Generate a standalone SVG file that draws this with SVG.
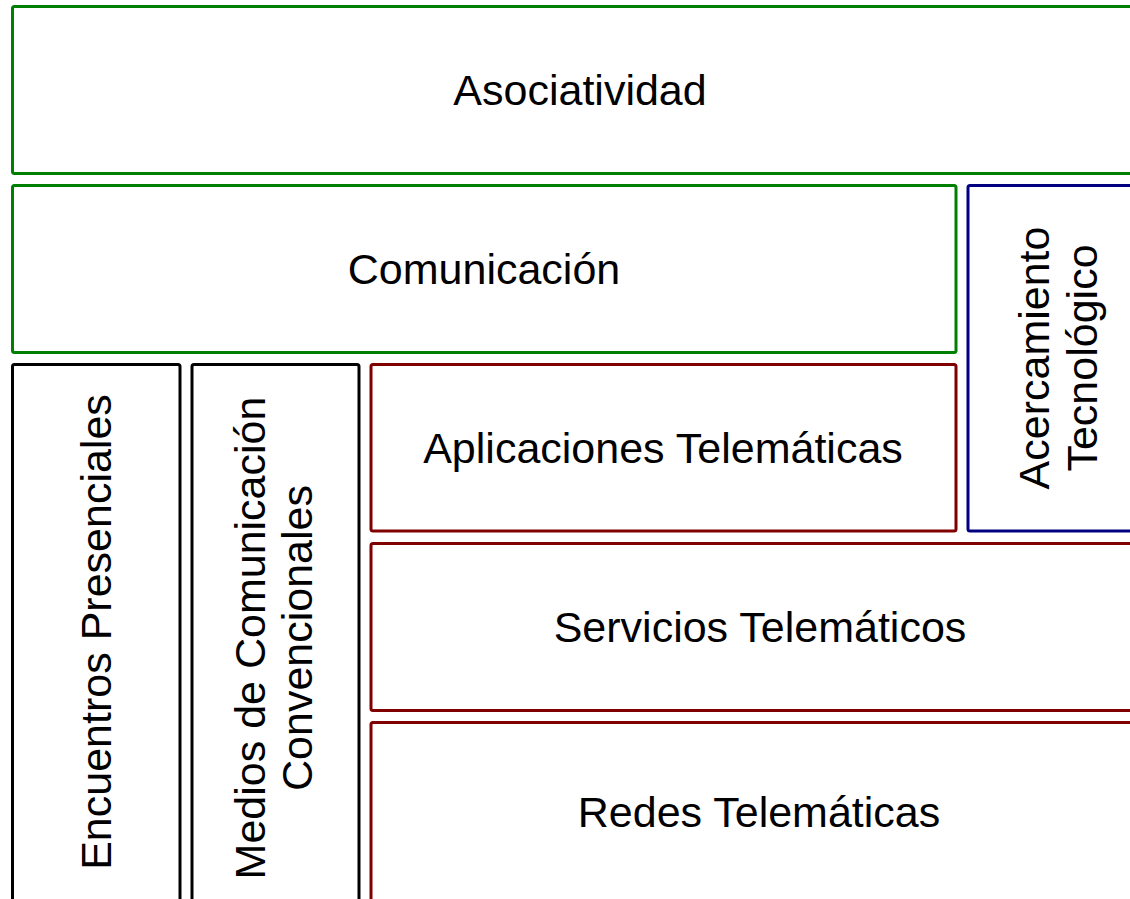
<svg xmlns="http://www.w3.org/2000/svg" width="1130" height="899" viewBox="0 0 1130 899">
<style>
rect{fill:#fff;stroke-width:3;}
.g{stroke:#008000;}
.b{stroke:#000080;}
.r{stroke:#800000;}
.k{stroke:#000;}
text{font-family:"Liberation Sans",Arial,sans-serif;font-size:43px;fill:#000;text-anchor:middle;}
</style>
<rect width="1130" height="899" fill="#fff" stroke="none"/>
<g id="asociatividad"><rect class="g" x="12.5" y="6.5" width="1135" height="167" rx="2"/><text x="580" y="105">Asociatividad</text></g>
<g id="comunicacion"><rect class="g" x="12.5" y="185.5" width="943.5" height="167" rx="2"/><text x="484" y="284">Comunicación</text></g>
<g id="acercamiento"><rect class="b" x="968" y="185.5" width="180" height="345.5" rx="2"/><g transform="translate(1058,358) rotate(-90)"><text x="0" y="-9">Acercamiento</text><text x="0" y="39">Tecnológico</text></g></g>
<g id="encuentros"><rect class="k" x="12.5" y="364.5" width="167.5" height="560" rx="2"/><g transform="translate(96,632) rotate(-90)"><text x="0" y="15">Encuentros Presenciales</text></g></g>
<g id="medios"><rect class="k" x="192" y="364.5" width="167" height="560" rx="2"/><g transform="translate(274,638) rotate(-90)"><text x="0" y="-9">Medios de Comunicación</text><text x="0" y="38">Convencionales</text></g></g>
<g id="aplicaciones"><rect class="r" x="371" y="364.5" width="585" height="166.5" rx="2"/><text x="663" y="463">Aplicaciones Telemáticas</text></g>
<g id="servicios"><rect class="r" x="371" y="543.5" width="777" height="167" rx="2"/><text x="760" y="642">Servicios Telemáticos</text></g>
<g id="redes"><rect class="r" x="371" y="722.5" width="777" height="200" rx="2"/><text x="759" y="827">Redes Telemáticas</text></g>
<g id="connectors"></g>
</svg>
